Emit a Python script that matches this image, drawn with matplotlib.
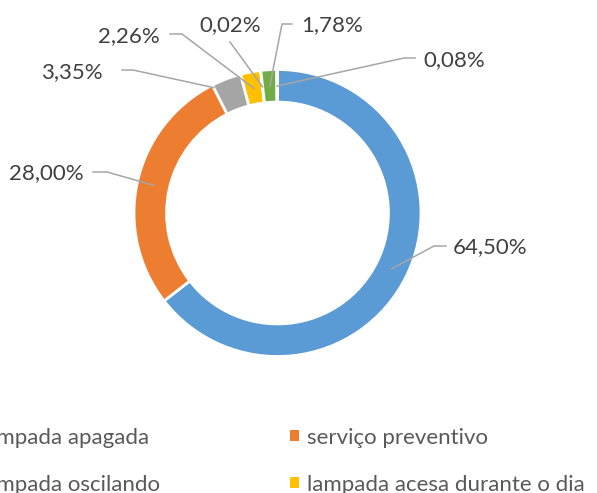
import matplotlib
matplotlib.use("Agg")
import matplotlib.pyplot as plt
import numpy as np
from matplotlib.patches import Patch
from matplotlib.lines import Line2D

# ---- data ----
values = [64.50, 28.00, 3.35, 2.26, 0.02, 1.78, 0.08]
value_labels = ["64,50%", "28,00%", "3,35%", "2,26%", "0,02%", "1,78%", "0,08%"]
categories = ["lampada apagada", "serviço preventivo",
              "lampada oscilando", "lampada acesa durante o dia"]
colors = ["#5B9BD5", "#ED7D31", "#A5A5A5", "#FFC000", "#4472C4", "#70AD47", "#255E91"]

# ---- layout (pixels, origin top-left) ----
W, H = 597, 493
cx, cy, R = 277.5, 213.0, 143.5
FONT = "Lato"
FS = 16
TXT = "#404040"
LEG_TXT = "#595959"
LINE = "#A6A6A6"

# per label: text x, text y, ha, leader points (from text side toward slice), anchor frac, anchor radius
label_layout = [
    (453, 247, "left",   [(446, 246), (434, 246)], 0.5, 0.885),
    (84, 173, "right",   [(93, 172), (107, 172)], 0.5, 0.885),
    (103, 72, "right",   [(122, 70), (133, 70)], 0.0, 0.98),
    (160, 36, "right",   [(170, 34), (182, 34)], 0.5, 0.885),
    (230, 25, "center",  [(230, 42)], 0.5, 0.885),
    (301, 25, "left",    [(292, 24), (282, 24)], 0.5, 0.885),
    (423, 60, "left",    [(415, 58), (404, 58)], 0.5, 0.885),
]

fig = plt.figure(figsize=(W / 100, H / 100), dpi=100)
ax = fig.add_axes([(cx - R) / W, (H - cy - R) / H, 2 * R / W, 2 * R / H])
wedges, _ = ax.pie(values, colors=colors, startangle=90, counterclock=False, radius=1,
                   wedgeprops=dict(width=0.227, edgecolor="white", linewidth=2))
ax.set_xlim(-1, 1)
ax.set_ylim(-1, 1)
ax.axis("off")

def fpx(x, y):
    return x / W, (H - y) / H

total = sum(values)
cum = 0.0
for v, lab, lay in zip(values, value_labels, label_layout):
    tx, ty, ha, pts, frac, rr = lay
    f = (cum + frac * v) / total
    ang = np.deg2rad(90 - 360 * f)
    ax_pt = (rr * np.cos(ang), rr * np.sin(ang))
    disp = ax.transData.transform(ax_pt)
    ax_px = (disp[0], H - disp[1])
    path = pts + [ax_px]
    xs = [p[0] / W for p in path]
    ys = [(H - p[1]) / H for p in path]
    fig.add_artist(Line2D(xs, ys, transform=fig.transFigure, color=LINE, lw=1.1))
    fig.text(*fpx(tx, ty), lab, ha=ha, va="center", fontsize=FS, color=TXT, family=FONT)
    cum += v

handles = [Patch(facecolor=c, edgecolor="none") for c in colors[:4]]
order = [0, 2, 1, 3]
fig.legend([handles[i] for i in order], [categories[i] for i in order], ncol=2,
           loc="upper left", bbox_to_anchor=fpx(-37, 427.5), frameon=False,
           borderpad=0, borderaxespad=0, handlelength=0.4, handleheight=0.4,
           handletextpad=0.35, columnspacing=5.86, labelspacing=1.22,
           prop=dict(family=FONT, size=FS), labelcolor=LEG_TXT)

fig.savefig("out.png", dpi=100)
